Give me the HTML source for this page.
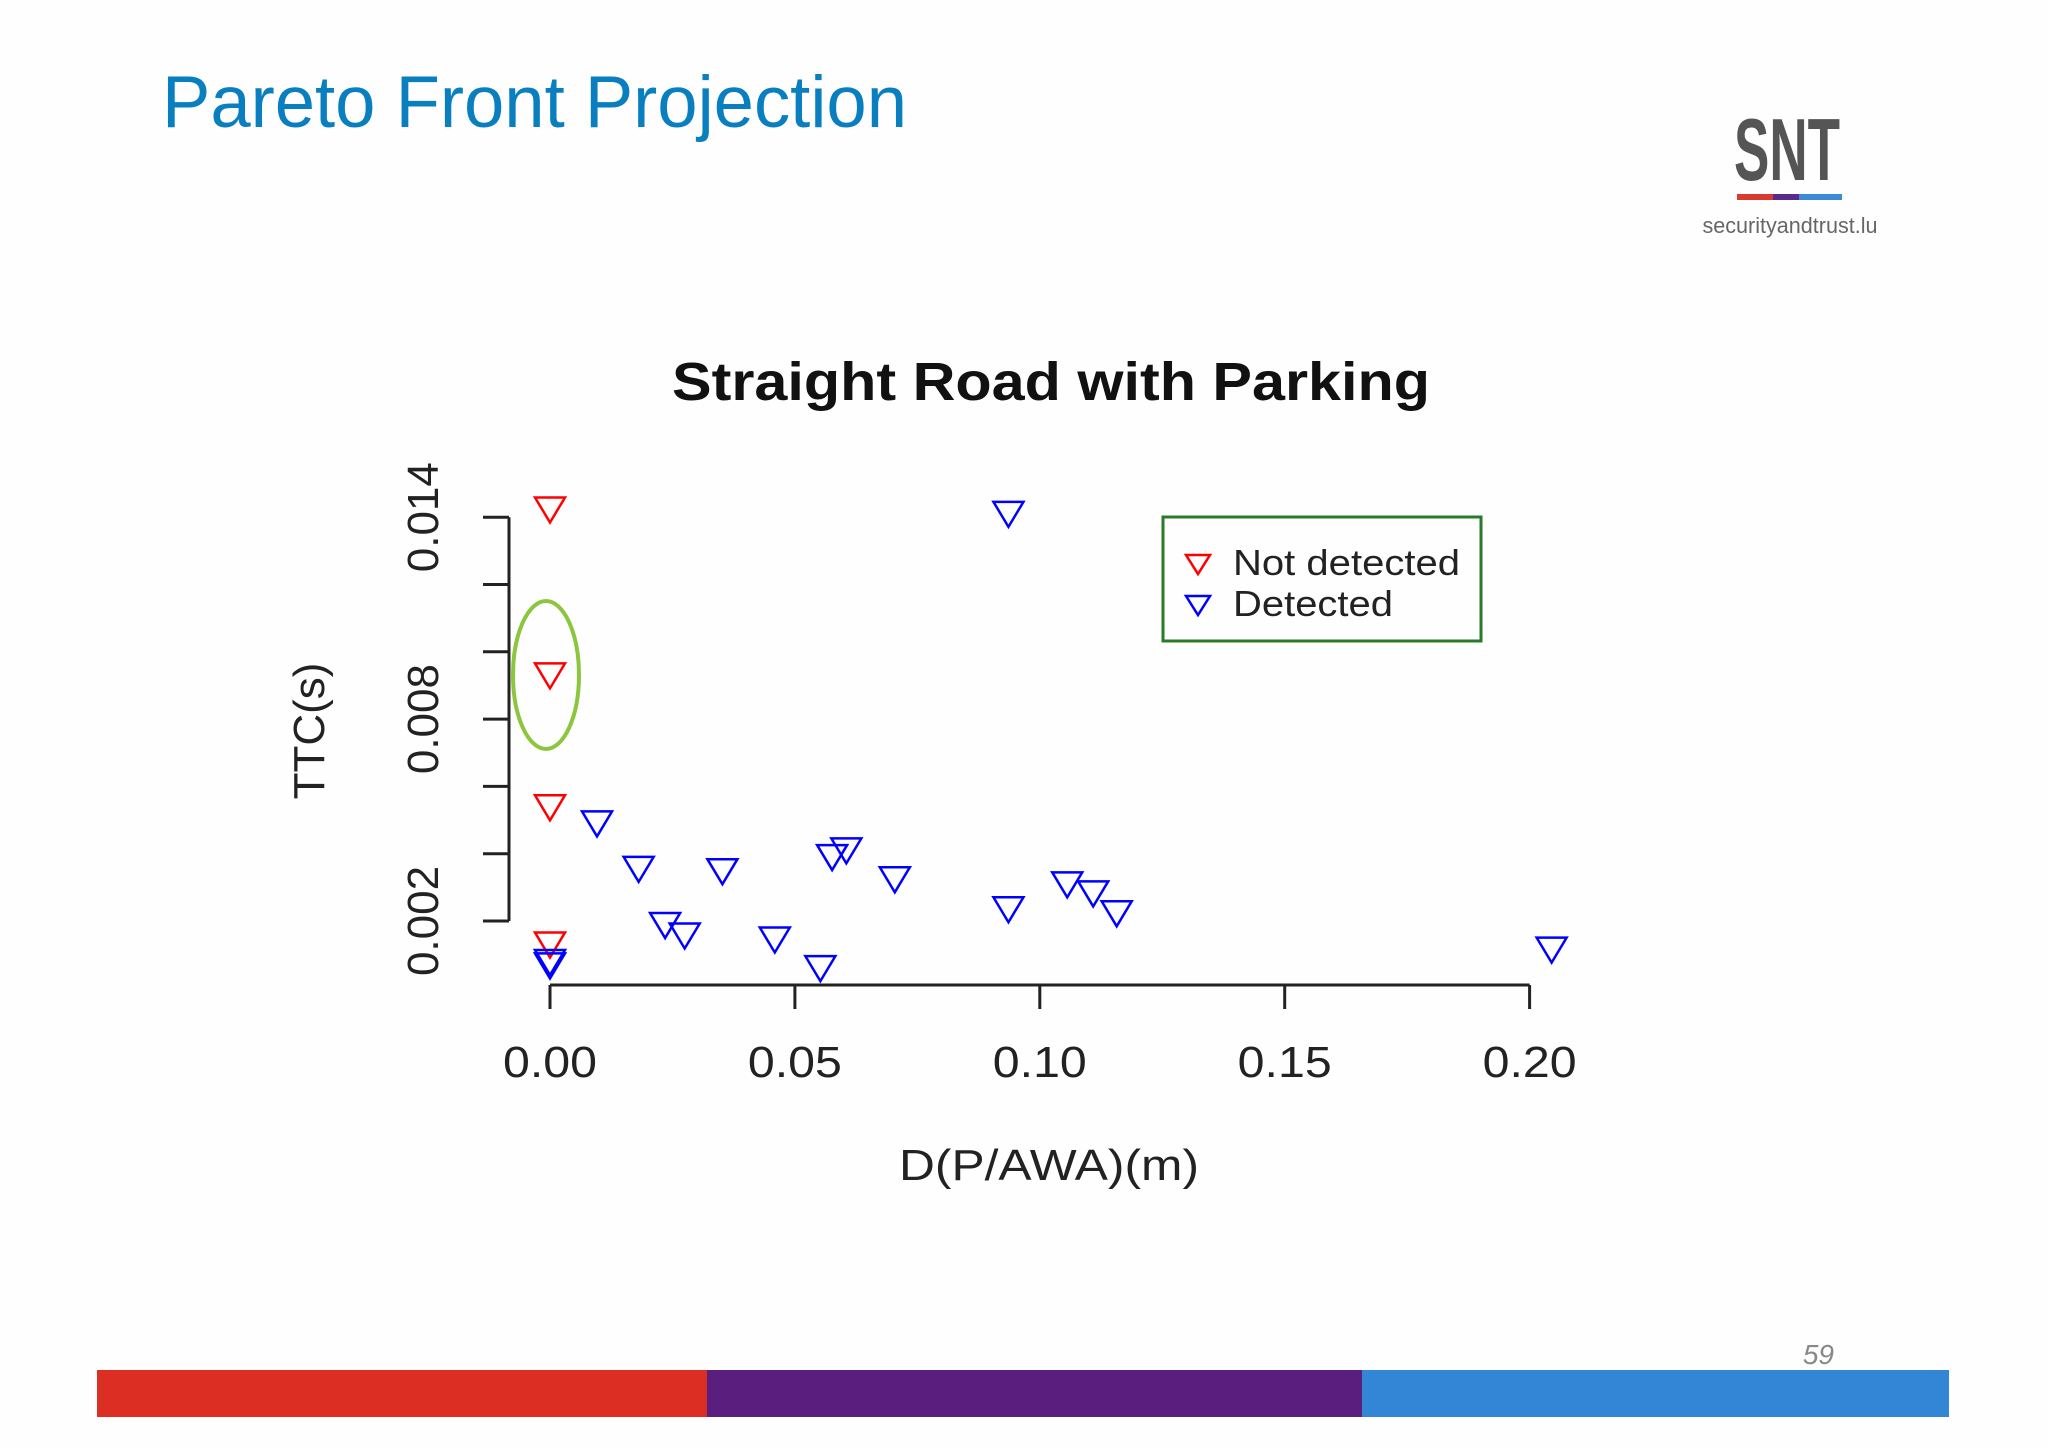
<!DOCTYPE html>
<html><head><meta charset="utf-8"><style>
html,body{margin:0;padding:0;background:#fff;}
svg text{font-family:"Liberation Sans",sans-serif;}
</style></head><body>
<svg id="c" width="2048" height="1447" viewBox="0 0 2048 1447" xmlns="http://www.w3.org/2000/svg">
<rect x="0" y="0" width="2048" height="1447" fill="#fefefe"/>
<text x="162" y="127" font-size="73" fill="#0a7fbf" textLength="745" lengthAdjust="spacingAndGlyphs">Pareto Front Projection</text>
<g>
<text x="1787" y="180" font-size="88" text-anchor="middle" fill="#555" font-weight="bold" textLength="106" lengthAdjust="spacingAndGlyphs">SNT</text>
<rect x="1737" y="194" width="36" height="6" fill="#d83a2e"/>
<rect x="1773" y="194" width="26" height="6" fill="#5a2a8a"/>
<rect x="1799" y="194" width="43" height="6" fill="#3a8ad8"/>
<text x="1790" y="233" font-size="22" text-anchor="middle" fill="#666" textLength="175" lengthAdjust="spacingAndGlyphs">securityandtrust.lu</text>
</g>
<text x="1051" y="400" font-size="54" font-weight="bold" text-anchor="middle" fill="#111" textLength="758" lengthAdjust="spacingAndGlyphs">Straight Road with Parking</text>
<g id="axes"></g>
<g id="marks"></g>
<ellipse cx="546" cy="675" rx="33" ry="74" fill="none" stroke="#8cc63f" stroke-width="4"/>
<g>
<rect x="1163" y="517" width="318" height="124" fill="none" stroke="#2a7a2a" stroke-width="3"/>
<path d="M1186,555 L1210,555 L1198,574 Z" fill="none" stroke="#f00" stroke-width="2.5"/>
<text x="1233" y="575" font-size="36" fill="#222" textLength="227" lengthAdjust="spacingAndGlyphs">Not detected</text>
<path d="M1186,596 L1210,596 L1198,615 Z" fill="none" stroke="#00f" stroke-width="2.5"/>
<text x="1233" y="616" font-size="36" fill="#222" textLength="160" lengthAdjust="spacingAndGlyphs">Detected</text>
</g>
<text x="1049" y="1180" font-size="44" text-anchor="middle" fill="#222" textLength="300" lengthAdjust="spacingAndGlyphs">D(P/AWA)(m)</text>
<text x="0" y="0" font-size="44" text-anchor="middle" fill="#222" transform="translate(324,731) rotate(-90)">TTC(s)</text>
<text x="1834" y="1364" font-size="28" font-style="italic" font-family="Liberation Serif" fill="#888" text-anchor="end">59</text>
<rect x="97" y="1370" width="610" height="47" fill="#dc2e22"/>
<rect x="707" y="1370" width="655" height="47" fill="#5a1e7e"/>
<rect x="1362" y="1370" width="587" height="47" fill="#3386d6"/>
</svg>
<script>
const xTicks=[0,0.05,0.10,0.15,0.20];
const xTickLabels=["0.00","0.05","0.10","0.15","0.20"];
const yTicks=[0.002,0.004,0.006,0.008,0.010,0.012,0.014];
const yTickLabels=["0.002","","","0.008","","","0.014"];
const redX=[0,0,0,0];
const redY=[0.01423,0.0093,0.00538,0.0013];
const blueX=[0,0,0.0096,0.0181,0.0235,0.0275,0.0352,0.0459,0.0552,0.0576,0.0605,0.0704,0.0936,0.0936,0.1056,0.1109,0.1157,0.2045];
const blueY=[0.00068,0.00078,0.0049,0.00355,0.00188,0.00157,0.00348,0.00145,0.0006,0.0039,0.0041,0.00324,0.0141,0.00235,0.00309,0.00282,0.00223,0.00115];
const NS="http://www.w3.org/2000/svg";
function xs(v){return 550+v*4898;}
function ys(v){return 921-(v-0.002)*33650;}
function mk(tag,attrs,parent){const e=document.createElementNS(NS,tag);for(const k in attrs)e.setAttribute(k,attrs[k]);parent.appendChild(e);return e;}
const ax=document.getElementById('axes');
let l=mk('line',{x1:xs(0),x2:xs(0.2),y1:985,y2:985,stroke:'#222','stroke-width':3},ax);


xTicks.forEach((t,i)=>{
 const tk=mk('line',{x1:xs(t),x2:xs(t),y1:985,y2:1009,stroke:'#222','stroke-width':3},ax);
 
 
 const tx=mk('text',{x:xs(t),y:1077,'font-size':44,'text-anchor':'middle',fill:'#222',textLength:94,lengthAdjust:'spacingAndGlyphs'},ax);
 tx.textContent=xTickLabels[i];
 
 
});
l=mk('line',{x1:509,x2:509,y1:ys(0.002),y2:ys(0.014),stroke:'#222','stroke-width':3},ax);


yTicks.forEach((t,i)=>{
 const tk=mk('line',{x1:483,x2:509,y1:ys(t),y2:ys(t),stroke:'#222','stroke-width':3},ax);
 
 
 if(yTickLabels[i]){
 const tx=mk('text',{x:0,y:0,'font-size':44,'text-anchor':'middle',fill:'#222',transform:`translate(438,${ys(t)}) rotate(-90)`},ax);
 tx.textContent=yTickLabels[i];
 
 
 }
});
const mg=document.getElementById('marks');
function tri(x,y,c,name){
 const cx=xs(x),cy=ys(y);
 const p=mk('path',{d:`M${cx-15},${cy-12} L${cx+15},${cy-12} L${cx},${cy+13} Z`,fill:'none',stroke:c,'stroke-width':2.5},mg);
 
 
}
redX.forEach((x,i)=>tri(x,redY[i],'#f00','point-not-detected'));
blueX.forEach((x,i)=>tri(x,blueY[i],'#00f','point-detected'));
</script>
</body></html>
